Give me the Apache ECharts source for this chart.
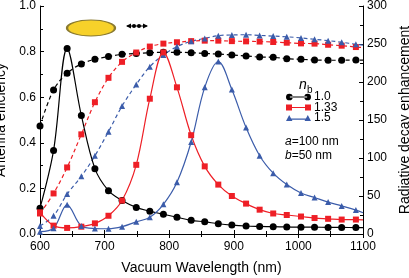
<!DOCTYPE html>
<html><head><meta charset="utf-8">
<script src="https://cdn.jsdelivr.net/npm/echarts@6/dist/echarts.min.js"></script>
<style>html,body{margin:0;padding:0;background:#fff}#c{width:409px;height:278px}</style>
</head><body><div id="c"></div>
<script>
// wavelengths (nm) of plotted markers; last entry is the curve end (no marker)
const wavelength = [600,621,642,664,685,706,727,749,770,791,812,834,855,876,897,919,940,961,982,1004,1025,1046,1067,1089,1100];
// Antenna efficiency (left axis), dashed curves
const eff_n100 = [0.474,0.632,0.705,0.746,0.766,0.778,0.788,0.792,0.795,0.797,0.797,0.795,0.792,0.789,0.785,0.781,0.776,0.775,0.769,0.766,0.763,0.762,0.762,0.763,0.763];
const eff_n133 = [0.090,0.178,0.292,0.437,0.578,0.685,0.755,0.796,0.822,0.835,0.841,0.846,0.848,0.848,0.846,0.845,0.844,0.842,0.839,0.836,0.835,0.830,0.826,0.820,0.818];
const eff_n150 = [0.035,0.080,0.175,0.253,0.343,0.449,0.561,0.656,0.734,0.785,0.822,0.845,0.858,0.870,0.873,0.874,0.871,0.868,0.865,0.860,0.854,0.848,0.841,0.832,0.828];
// Radiative decay enhancement (right axis), solid curves
const rad_n100 = [34,110,244,156,86,57,44,35,30,26,22,18,16,13.5,11.7,10.5,10,9.6,9.3,9,9,8.7,8.7,8.4,8.4];
const rad_n133 = [28.5,11,8,9.6,14,24,44,91,178,239,193,130,89,65,50,40,32,27,25,23,21,20,19,19,18.6];
const rad_n150 = [3,7.5,38.4,10.5,7.2,6.9,9.6,16,22,39,68,121,193,227,190,140,103,80,65,54,48,42,37,31.5,28];
const legendNames = ['1.0','1.33','1.5'];
const xTicks = [600,700,800,900,1000,1100];

const BLACK='#000000', RED='#ee1f26', BLUE='#3b5caa';
const FONT='Liberation Sans, Arial, Helvetica, sans-serif';

// legend icons: marker - line - marker
const ICON_CIRCLE = 'path://M0,3.5A3.5,3.5 0 1,0 7,3.5A3.5,3.5 0 1,0 0,3.5Z M19,3.5A3.5,3.5 0 1,0 26,3.5A3.5,3.5 0 1,0 19,3.5Z M4,2.9L22,2.9L22,4.1L4,4.1Z';
const ICON_SQUARE = 'path://M0.5,0.5L6.5,0.5L6.5,6.5L0.5,6.5Z M19.5,0.5L25.5,0.5L25.5,6.5L19.5,6.5Z M4,2.9L22,2.9L22,4.1L4,4.1Z';
const ICON_TRI = 'path://M3.5,0.3L6.8,6.5L0.2,6.5Z M22.5,0.3L25.8,6.5L19.2,6.5Z M4,3.9L22,3.9L22,5.1L4,5.1Z';

function pts(vals){
  return vals.map((v,i)=> i===vals.length-1 ? {value:[wavelength[i],v],symbol:'none'} : [wavelength[i],v]);
}
function ser(name, vals, color, symbol, size, dashed, yIdx){
  return {
    name, type:'line', yAxisIndex:yIdx, data:pts(vals), smooth:0.35,
    symbol, symbolSize:size, showAllSymbol:true,
    lineStyle:{color, width:1.2, type: dashed?[4,3]:'solid'},
    itemStyle:{color, borderWidth:0},
    emphasis:{disabled:true}, animation:false, z: dashed?2:3
  };
}

const chart = echarts.init(document.getElementById('c'), null, {renderer:'canvas'});
const axisCommon = {
  axisLine:{show:true, lineStyle:{color:'#000', width:1}},
  axisTick:{show:true, inside:true, length:4, lineStyle:{color:'#000'}},
  minorTick:{show:true, splitNumber:2, length:3, lineStyle:{color:'#000'}},
  splitLine:{show:false},
  axisLabel:{color:'#000', fontSize:12, fontFamily:FONT}
};
chart.setOption({
  animation:false,
  grid:{left:40, right:46, top:6, bottom:44, containLabel:false, outerBoundsMode:'none'},
  xAxis:[
    Object.assign({}, axisCommon, {type:'value', min:600, max:1100, interval:100,
      name:'Vacuum Wavelength (nm)', nameLocation:'middle', nameGap:27,
      nameTextStyle:{color:'#000', fontSize:14, fontFamily:FONT},
      axisLabel:Object.assign({}, axisCommon.axisLabel, {margin:7,
        formatter:v=> xTicks.indexOf(v)>=0 ? String(v) : ''})}),
    Object.assign({}, axisCommon, {type:'value', position:'top', min:600, max:1100, interval:100,
      axisLabel:{show:false}})
  ],
  yAxis:[
    Object.assign({}, axisCommon, {type:'value', min:0, max:1, interval:0.2,
      name:'Antenna efficiency', nameLocation:'middle', nameRotate:90, nameGap:27,
      nameTextStyle:{color:'#000', fontSize:14, fontFamily:FONT},
      axisLabel:Object.assign({}, axisCommon.axisLabel, {margin:4, formatter:v=>v.toFixed(1)})}),
    Object.assign({}, axisCommon, {type:'value', min:0, max:300, interval:50, position:'right',
      name:'Radiative decay enhancement', nameLocation:'middle', nameRotate:90, nameGap:28,
      nameTextStyle:{color:'#000', fontSize:14, fontFamily:FONT},
      axisLabel:Object.assign({}, axisCommon.axisLabel, {margin:4})})
  ],
  legend:{
    data:[
      {name:legendNames[0], icon:ICON_CIRCLE},
      {name:legendNames[1], icon:ICON_SQUARE},
      {name:legendNames[2], icon:ICON_TRI}
    ],
    orient:'vertical', left:286, top:91, itemWidth:25, itemHeight:7, itemGap:-1.5,
    padding:0,
    textStyle:{color:'#000', fontSize:12, fontFamily:FONT, padding:[0,0,0,-2]}, selectedMode:false
  },
  series:[
    ser('eff1.0', eff_n100, BLACK, 'circle', 7, true, 0),
    ser('eff1.33', eff_n133, RED, 'rect', 6, true, 0),
    ser('eff1.5', eff_n150, BLUE, 'triangle', 6, true, 0),
    ser(legendNames[0], rad_n100, BLACK, 'circle', 7, false, 1),
    ser(legendNames[1], rad_n133, RED, 'rect', 6, false, 1),
    ser(legendNames[2], rad_n150, BLUE, 'triangle', 6, false, 1)
  ],
  graphic:[
    {type:'circle', x:91, y:28, scaleX:3, scaleY:1, shape:{cx:0, cy:0, r:8},
      style:{fill:'#f7d12a', stroke:'#8a7a30', lineWidth:0.8, strokeNoScale:true}},
    {type:'line', shape:{x1:127, y1:26, x2:147, y2:26}, style:{stroke:'#000', lineWidth:1}},
    {type:'polygon', shape:{points:[[126,26],[131,23.5],[131,28.5]]}, style:{fill:'#000'}},
    {type:'polygon', shape:{points:[[148,26],[143,23.5],[143,28.5]]}, style:{fill:'#000'}},
    {type:'circle', shape:{cx:134, cy:26, r:2}, style:{fill:'#000'}},
    {type:'circle', shape:{cx:139, cy:26, r:2}, style:{fill:'#000'}},
    {type:'text', x:299, y:78, style:{text:'n', fill:'#000', font:'italic 14px '+FONT}},
    {type:'text', x:307, y:85, style:{text:'b', fill:'#000', font:'10px '+FONT}},
    {type:'text', x:285, y:136, style:{text:'{i|a}=100 nm', fill:'#000', font:'12px '+FONT,
      rich:{i:{fontStyle:'italic', fontSize:12, fontFamily:FONT}}}},
    {type:'text', x:285, y:150, style:{text:'{i|b}=50 nm', fill:'#000', font:'12px '+FONT,
      rich:{i:{fontStyle:'italic', fontSize:12, fontFamily:FONT}}}}
  ]
});
</script></body></html>
